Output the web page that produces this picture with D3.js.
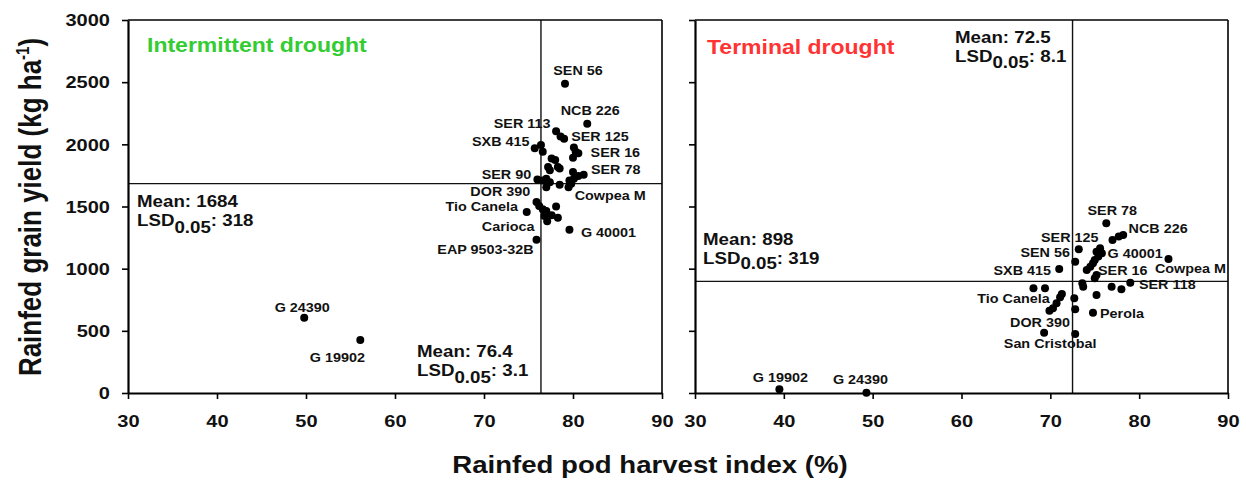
<!DOCTYPE html>
<html><head><meta charset="utf-8">
<script src="https://cdn.jsdelivr.net/npm/d3@7"></script>
<style>
body{margin:0;background:#fff;}
text{font-family:Arial,"Liberation Sans",sans-serif;font-weight:bold;fill:#111;}
</style></head><body>
<svg id="chart" width="1246" height="481"></svg>
<script>
// ---------- data ----------
const xTicks = [30, 40, 50, 60, 70, 80, 90];
const yTicks = [0, 500, 1000, 1500, 2000, 2500, 3000];

const intermittentNames = ["SEN 56","NCB 226","SER 113","","","SER 125","","","SER 16","SXB 415","","","","","","","","","","","SER 78","","","SER 90","","","","DOR 390","","","Cowpea M","Tio Canela","","","","","","","","Carioca","","G 40001","EAP 9503-32B","G 24390","G 19902"];
const intermittentPHI = [79.1,81.6,78.1,78.6,79.0,80.1,80.3,80.0,80.6,75.7,76.4,76.6,77.6,78.0,77.2,78.3,77.4,78.5,80.0,80.6,81.2,80.1,79.6,76.0,76.6,77.0,77.4,77.0,78.5,79.5,79.8,74.8,75.9,76.2,76.6,77.0,78.1,77.6,78.3,77.1,76.8,79.6,75.9,49.8,56.1];
const intermittentYield = [2487,2165,2105,2064,2045,1974,1941,1892,1928,1969,1995,1941,1887,1873,1818,1818,1792,1805,1778,1745,1756,1723,1710,1717,1710,1723,1696,1655,1674,1655,1682,1456,1537,1505,1478,1464,1499,1429,1409,1382,1423,1314,1232,606,426];

const terminalNames = ["SER 78","","","NCB 226","SER 125","G 40001","","","","","","","","SEN 56","Cowpea M","SXB 415","SER 16","","Tio Canela","","","","","DOR 390","","","","","","SER 118","","","","Perola","San Cristobal","","G 19902","G 24390"];
const terminalPHI = [76.3,77.0,77.7,78.2,73.2,75.6,75.2,75.8,75.4,75.0,74.8,74.5,74.1,72.8,83.3,71.0,75.0,75.2,68.1,69.4,71.3,71.1,70.7,70.3,69.9,73.7,73.6,76.9,78.0,79.0,75.2,72.7,72.8,74.8,69.3,72.8,39.5,49.3];
const terminalYield = [1365,1231,1258,1271,1156,1164,1137,1124,1097,1070,1043,1016,990,1056,1078,998,923,949,842,842,796,770,722,681,662,855,882,855,834,887,788,762,673,646,485,475,30,3];

const intermittentMeanPHI = 76.4, intermittentLSDPHI = "3.1";
const intermittentMeanYield = 1684, intermittentLSDYield = "318";
const terminalMeanPHI = 72.5, terminalLSDPHI = "8.1";
const terminalMeanYield = 898, terminalLSDYield = "319";

// ---------- drawing ----------
const svg = d3.select("#chart");
const S = 1.2; // horizontal text stretch of the original

const leftOffsets = {"SEN 56":[13,-13],"NCB 226":[3,-13],"SER 113":[-34,-8],"SXB 415":[-34,-7],"SER 125":[26,-11],"SER 16":[37,-1],"SER 90":[-31,-5],"SER 78":[32,-5],"DOR 390":[-46,4],"Cowpea M":[39,12],"Tio Canela":[-45,-5],"Carioca":[-39,5],"G 40001":[39,3],"EAP 9503-32B":[-51,10],"G 24390":[-2,-10],"G 19902":[-23,17]};
const rightOffsets = {"SER 78":[6,-13],"NCB 226":[35,-6],"SER 125":[-9,-12],"G 40001":[35,5],"SEN 56":[-30,-9],"Cowpea M":[22,10],"SXB 415":[-37,2],"SER 16":[28,-8],"Tio Canela":[-20,10],"DOR 390":[-13,14],"SER 118":[37,2],"Perola":[29,1],"San Cristobal":[6,11],"G 19902":[1,-12],"G 24390":[-6,-13]};

function stext(parent, x, y, str, size, anchor, color, sx){
  const g = parent.append("g").attr("transform", `translate(${x},${y}) scale(${sx||S},1)`);
  const t = g.append("text").attr("text-anchor", anchor||"start").style("font-size", size+"px");
  if(color) t.style("fill", color);
  t.text(str);
  return t;
}
function meanText(parent, x, y, meanVal, lsdVal, subDrop){
  const g = parent.append("g").attr("transform", `translate(${x},${y}) scale(1.17,1)`);
  g.append("text").style("font-size","16px").text("Mean: " + meanVal);
  const t = g.append("text").attr("y", 19).style("font-size","16px");
  t.append("tspan").text("LSD");
  t.append("tspan").attr("dy", subDrop).text("0.05");
  t.append("tspan").attr("dy", -subDrop).text(": " + lsdVal);
}

const yTop = 20, yBot = 393;
const y = d3.scaleLinear().domain([0,3000]).range([yBot, yTop]);

function panel(x0, x1, names, xs, ys, meanX, meanY, offsets, showYLabels){
  const x = d3.scaleLinear().domain([30,90]).range([x0, x1]);
  const g = svg.append("g");
  // mean lines
  g.append("line").attr("x1", x0).attr("x2", x1).attr("y1", y(meanY)).attr("y2", y(meanY))
    .attr("stroke","#111").attr("stroke-width",1.4);
  g.append("line").attr("x1", x(meanX)).attr("x2", x(meanX)).attr("y1", yTop).attr("y2", yBot)
    .attr("stroke","#111").attr("stroke-width",1.4);
  // frame top/right
  g.append("line").attr("x1", x0).attr("x2", x1).attr("y1", yTop).attr("y2", yTop).attr("stroke","#000").attr("stroke-width",1.6);
  g.append("line").attr("x1", x1).attr("x2", x1).attr("y1", yTop).attr("y2", yBot).attr("stroke","#000").attr("stroke-width",1.6);
  // axes
  const ax = g.append("g").attr("transform", `translate(0,${yBot})`)
    .call(d3.axisBottom(x).tickValues(xTicks).tickSize(6).tickSizeOuter(0).tickFormat(d3.format("d")));
  ax.select(".domain").attr("stroke-width",2.2).attr("stroke","#000");
  ax.selectAll(".tick line").attr("stroke-width",1.6).attr("stroke","#000");
  ax.selectAll(".tick text").attr("y",34).attr("dy","0").attr("transform",`scale(1.25,1)`)
    .style("font-size","16px").style("font-family","Arial, 'Liberation Sans', sans-serif").style("font-weight","bold").attr("fill","#111");
  const ay = g.append("g").attr("transform", `translate(${x0},0)`)
    .call(d3.axisLeft(y).tickValues(yTicks).tickSize(6).tickSizeOuter(0).tickFormat(showYLabels ? d3.format("d") : ""));
  ay.select(".domain").attr("stroke-width",2.2).attr("stroke","#000");
  ay.selectAll(".tick line").attr("stroke-width",1.6).attr("stroke","#000");
  ay.selectAll(".tick text").attr("x", -18/1.25).attr("dy","0.36em").attr("transform",`scale(1.25,1)`)
    .style("font-size","16px").style("font-family","Arial, 'Liberation Sans', sans-serif").style("font-weight","bold").attr("fill","#111");
  // points
  const idx = d3.range(xs.length);
  g.append("g").selectAll("circle").data(idx).join("circle")
    .attr("cx", i => x(xs[i])).attr("cy", i => y(ys[i])).attr("r", 4).attr("fill","#000");
  // labels
  idx.filter(i => names[i]).forEach(i => {
    const o = offsets[names[i]] || [0,-12];
    const t = stext(g, x(xs[i]) + o[0], y(ys[i]) + o[1], names[i], 12.5, "middle", null, 1.15);
    t.attr("dy","0.36em");
  });
  return x;
}

const xl = panel(128, 662, intermittentNames, intermittentPHI, intermittentYield, intermittentMeanPHI, intermittentMeanYield, leftOffsets, true);
const xr = panel(695, 1228, terminalNames, terminalPHI, terminalYield, terminalMeanPHI, terminalMeanYield, rightOffsets, false);

// panel titles
stext(svg, 147, 52, "Intermittent drought", 19.5, "start", "#33cc33", 1.18);
stext(svg, 707, 54, "Terminal drought", 19.5, "start", "#ff3333", 1.18);

// mean / LSD annotations
meanText(svg, 137, 207, intermittentMeanYield, intermittentLSDYield, 7);
meanText(svg, 417, 357, intermittentMeanPHI, intermittentLSDPHI, 7);
meanText(svg, 955, 43, terminalMeanPHI, terminalLSDPHI, 6);
meanText(svg, 703, 245, terminalMeanYield, terminalLSDYield, 5);

// axis titles
stext(svg, 650, 473, "Rainfed pod harvest index (%)", 23, "middle", "#111", 1.2);
const yt = svg.append("g").attr("transform", "translate(41,207) scale(1.2,1) rotate(-90)")
  .append("text").attr("text-anchor","middle").style("font-size","26px");
yt.append("tspan").text("Rainfed grain yield (kg ha");
yt.append("tspan").attr("dy",-10).style("font-size","15px").text("-1");
yt.append("tspan").attr("dy",10).text(")");
</script>
</body></html>
